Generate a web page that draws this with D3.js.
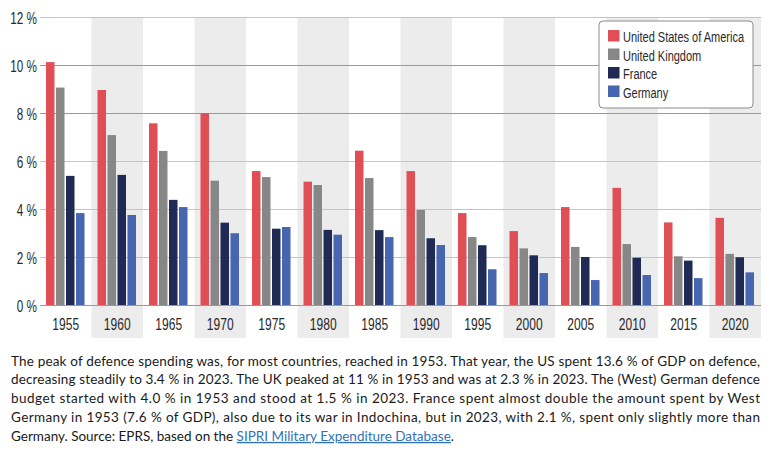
<!DOCTYPE html>
<html>
<head>
<meta charset="utf-8">
<script src="https://cdn.jsdelivr.net/npm/d3@7"></script>
<style>
  body { margin: 0; background: #fff; }
  svg { display: block; }
</style>
</head>
<body>
<div id="chart"></div>
<script>
const width = 783
const height = 456
const margin = { top: 17, right: 22, left: 40, zero: 305, bandBottom: 338 }

const years = [1955, 1960, 1965, 1970, 1975, 1980, 1985, 1990, 1995, 2000, 2005, 2010, 2015, 2020]
const seriesNames = ['United States of America', 'United Kingdom', 'France', 'Germany']
const usa = [10.12, 8.96, 7.57, 7.99, 5.58, 5.14, 6.43, 5.58, 3.83, 3.08, 4.08, 4.88, 3.44, 3.63]
const uk = [9.06, 7.08, 6.42, 5.18, 5.33, 5.0, 5.29, 3.96, 2.83, 2.36, 2.42, 2.54, 2.03, 2.13]
const france = [5.38, 5.42, 4.38, 3.43, 3.18, 3.13, 3.12, 2.78, 2.49, 2.07, 2.0, 1.97, 1.85, 1.99]
const germany = [3.83, 3.75, 4.08, 2.99, 3.25, 2.93, 2.83, 2.5, 1.49, 1.33, 1.04, 1.25, 1.12, 1.36]
const yTicks = [0, 2, 4, 6, 8, 10, 12]
const colors = ['#df4f55', '#878787', '#1f2a55', '#4766b0']

const captionLines = [
  'The peak of defence spending was, for most countries, reached in 1953. That year, the US spent 13.6 % of GDP on defence,',
  'decreasing steadily to 3.4 % in 2023. The UK peaked at 11 % in 1953 and was at 2.3 % in 2023. The (West) German defence',
  'budget started with 4.0 % in 1953 and stood at 1.5 % in 2023. France spent almost double the amount spent by West',
  'Germany in 1953 (7.6 % of GDP), also due to its war in Indochina, but in 2023, with 2.1 %, spent only slightly more than'
]

const values = [usa, uk, france, germany]
const data = years.map((year, i) => ({
  year,
  bars: seriesNames.map((name, j) => ({ name, value: values[j][i], color: colors[j] }))
}))

// no condensed face installed, so squeeze Liberation Sans horizontally
const condensed = '"Liberation Sans", Arial, sans-serif'

const svg = d3.select('#chart').append('svg').attr('width', width).attr('height', height)

const x = d3.scaleBand().domain(years).range([margin.left, width - margin.right]).padding(0)
const xSub = d3.scaleBand().domain(seriesNames).range([6, x.bandwidth() - 7]).paddingInner(0.15)
const y = d3.scaleLinear().domain([0, 12]).range([margin.zero, margin.top])

// alternating grey bands
svg.append('g').selectAll('rect')
  .data(years.filter((d, i) => i % 2 === 1))
  .join('rect')
  .attr('x', d => x(d))
  .attr('y', margin.top)
  .attr('width', x.bandwidth())
  .attr('height', margin.bandBottom - margin.top)
  .attr('fill', '#ececec')

// y axis + gridlines
const yAxisGroup = svg.append('g')
  .attr('transform', `translate(${margin.left},0)`)
  .call(d3.axisLeft(y).tickValues(yTicks).tickSize(-(width - margin.right - margin.left)).tickPadding(0).tickFormat(d => d + ' %'))
yAxisGroup.select('.domain').remove()
yAxisGroup.selectAll('.tick line').attr('stroke', d => d === 0 || d === 8 || d === 10 ? '#999' : '#c4c4c4')
yAxisGroup.selectAll('.tick text')
  .attr('x', 0)
  .attr('transform', 'translate(-3,0) scale(0.71,1)')
  .attr('font-family', condensed)
  .attr('font-size', 16.5)
  .attr('fill', '#2a2a2a')
  .attr('dy', '0.4em')

// bars
const groups = svg.append('g').selectAll('g')
  .data(data)
  .join('g')
  .attr('transform', d => `translate(${x(d.year)},0)`)

groups.selectAll('rect')
  .data(d => d.bars)
  .join('rect')
  .attr('x', d => xSub(d.name))
  .attr('width', xSub.bandwidth())
  .attr('y', d => y(d.value))
  .attr('height', d => y(0) - y(d.value))
  .attr('fill', d => d.color)

// x axis labels
const xAxisGroup = svg.append('g')
  .attr('transform', `translate(0,${margin.zero})`)
  .call(d3.axisBottom(x).tickSize(0).tickPadding(13))
xAxisGroup.select('.domain').remove()
xAxisGroup.selectAll('.tick text')
  .attr('transform', 'scale(0.73,1)')
  .attr('font-family', condensed)
  .attr('font-size', 16.5)
  .attr('fill', '#2a2a2a')

// legend
const legend = svg.append('g').attr('transform', 'translate(599,21)')
legend.append('rect')
  .attr('width', 154)
  .attr('height', 87)
  .attr('rx', 4)
  .attr('fill', '#fff')
  .attr('stroke', '#8c8c8c')
const legendRows = legend.selectAll('g')
  .data(seriesNames)
  .join('g')
  .attr('transform', (d, i) => `translate(9,${9 + i * 18.5})`)
legendRows.append('rect')
  .attr('width', 11.5)
  .attr('height', 11.5)
  .attr('fill', (d, i) => colors[i])
legendRows.append('text')
  .attr('transform', 'translate(15,12) scale(0.77,1)')
  .attr('font-family', condensed)
  .attr('font-size', 14.3)
  .attr('fill', '#2a2a2a')
  .text(d => d)

// caption
const caption = svg.append('g')
  .attr('font-family', 'Lato, "Open Sans", sans-serif')
  .attr('font-size', 13.5)
  .attr('fill', '#1a1a1a')

caption.selectAll('text.line')
  .data(captionLines)
  .join('text')
  .attr('class', 'line')
  .attr('x', 11)
  .attr('y', (d, i) => 365.5 + i * 18.85)
  .attr('textLength', 749)
  .attr('lengthAdjust', 'spacing')
  .text(d => d)

const last = caption.append('text')
  .attr('x', 11)
  .attr('y', 365.5 + 4 * 18.85)
last.append('tspan').text('Germany. Source: EPRS, based on the ')
last.append('tspan')
  .attr('fill', '#2f72b8')
  .attr('text-decoration', 'underline')
  .text('SIPRI Military Expenditure Database')
last.append('tspan').text('.')
</script>
</body>
</html>
